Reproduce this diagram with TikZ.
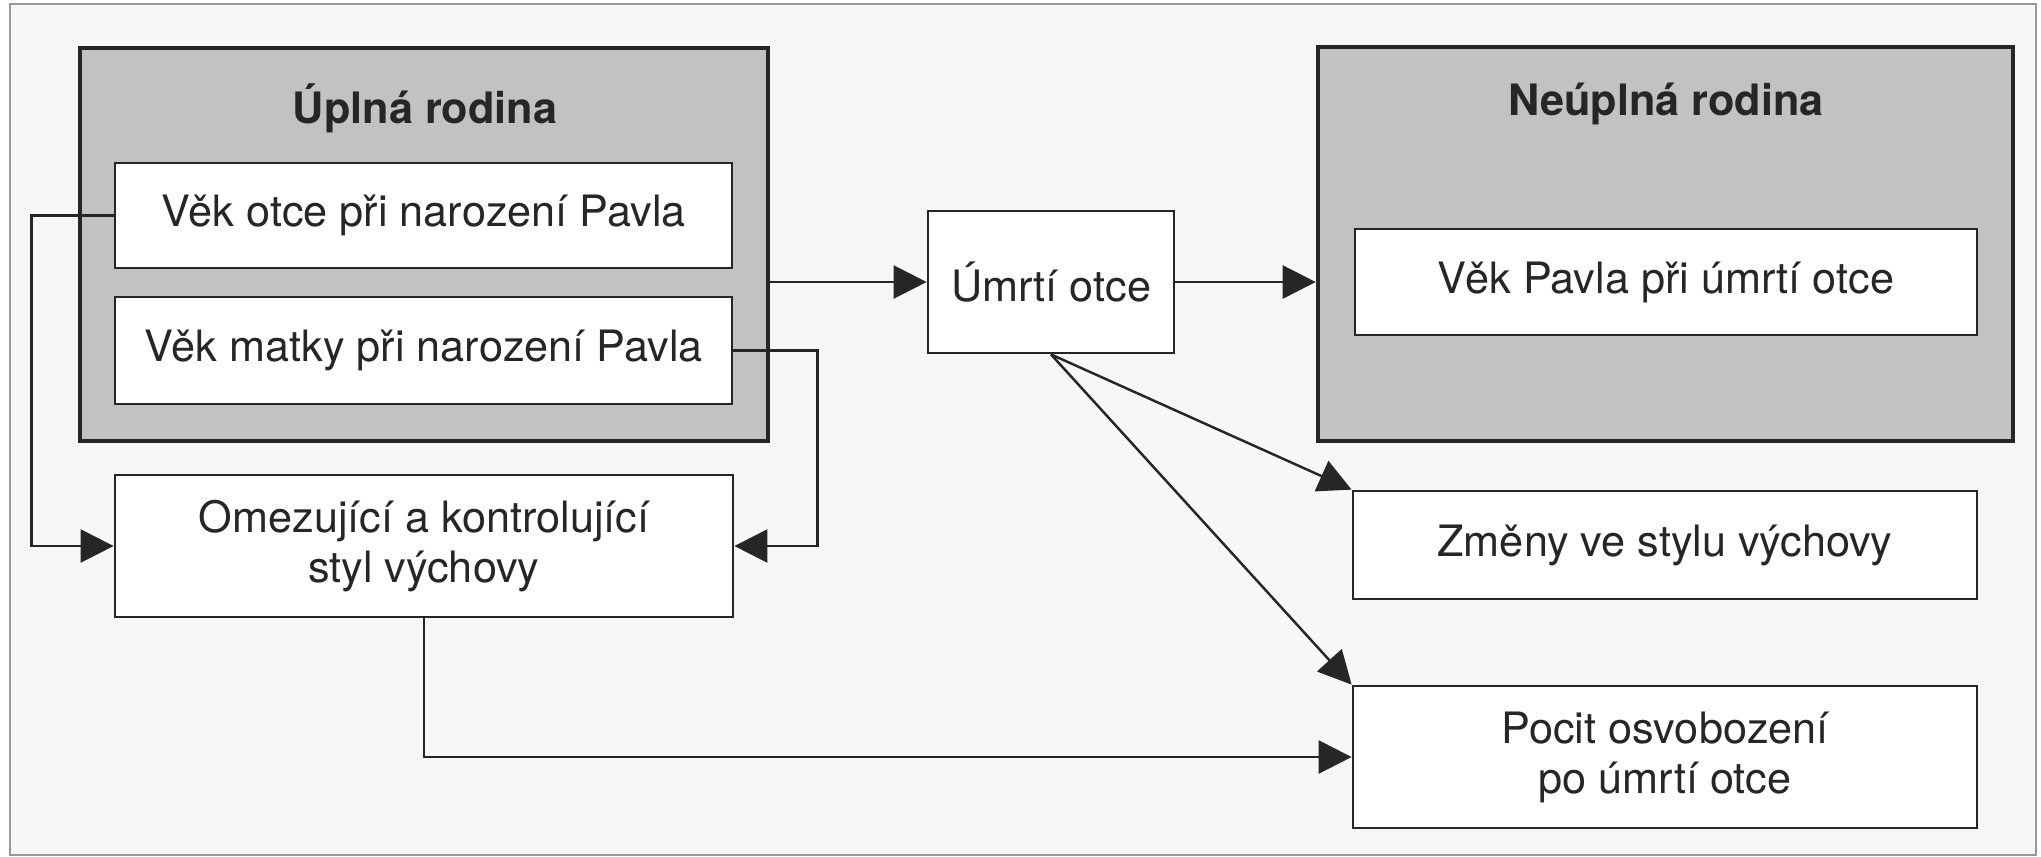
\documentclass[tikz,border=0pt]{standalone}
\usepackage{fontspec}
\setmainfont{TeX Gyre Heros}
\usetikzlibrary{arrows.meta}

\begin{document}
\begin{tikzpicture}[font=\fontsize{12.3}{14.2}\selectfont]
	\tikzstyle{frameStyle}=[draw=black!40, line width=0.6pt, fill=black!3]
	\tikzstyle{groupStyle}=[shape=rectangle, draw=black!85, line width=1.3pt, fill=black!24, inner sep=0pt]
	\tikzstyle{boxStyle}=[shape=rectangle, draw=black!85, line width=0.8pt, fill=white, align=center, inner sep=0pt, text=black!85]
	\tikzstyle{titleStyle}=[anchor=base, font=\fontsize{12.3}{14.2}\selectfont\bfseries, text=black!85]
	\tikzstyle{EdgeStyle}=[draw=black!85, line width=0.7pt, -{Triangle[length=0.33cm, width=0.33cm]}]
	\useasboundingbox (0,0) rectangle (20.41,-8.56);
	\draw[frameStyle] (0.10,-0.04) rectangle (20.36,-8.55);
	\node[groupStyle, minimum width=6.88cm, minimum height=3.93cm] (g0) at (4.24,-2.445) {};
	\node[groupStyle, minimum width=6.95cm, minimum height=3.94cm] (g1) at (16.655,-2.44) {};
	\node[titleStyle] (t0) at (4.25,-1.23) {Úplná rodina};
	\node[titleStyle] (t1) at (16.66,-1.15) {Neúplná rodina};
	\node[boxStyle, minimum width=6.17cm, minimum height=1.05cm] (otec) at (4.235,-2.155) {Věk otce při narození Pavla};
	\node[boxStyle, minimum width=6.17cm, minimum height=1.07cm] (matka) at (4.235,-3.505) {Věk matky při narození Pavla};
	\node[boxStyle, minimum width=6.18cm, minimum height=1.42cm] (omez) at (4.24,-5.46) {Omezující a kontrolující\\styl výchovy};
	\node[boxStyle, minimum width=2.46cm, minimum height=1.42cm] (umrti) at (10.51,-2.82) {Úmrtí otce};
	\node[boxStyle, minimum width=6.22cm, minimum height=1.06cm] (pavel) at (16.66,-2.82) {Věk Pavla při úmrtí otce};
	\node[boxStyle, minimum width=6.24cm, minimum height=1.08cm] (zmeny) at (16.65,-5.45) {Změny ve stylu výchovy};
	\node[boxStyle, minimum width=6.24cm, minimum height=1.42cm] (pocit) at (16.65,-7.57) {Pocit osvobození\\po úmrtí otce};
	\draw[EdgeStyle] (otec.west) -- ++(-0.82,0) |- (omez.west);
	\draw[EdgeStyle] (matka.east) -- ++(0.84,0) |- (omez.east);
	\draw[EdgeStyle] (g0.east |- umrti.west) -- (umrti.west);
	\draw[EdgeStyle] (umrti.east) -- (g1.west |- umrti.east);
	\draw[EdgeStyle] (umrti.south) -- (zmeny.north west);
	\draw[EdgeStyle] (umrti.south) -- (pocit.north west);
	\draw[EdgeStyle] (omez.south) |- (pocit.west);
\end{tikzpicture}
\end{document}
